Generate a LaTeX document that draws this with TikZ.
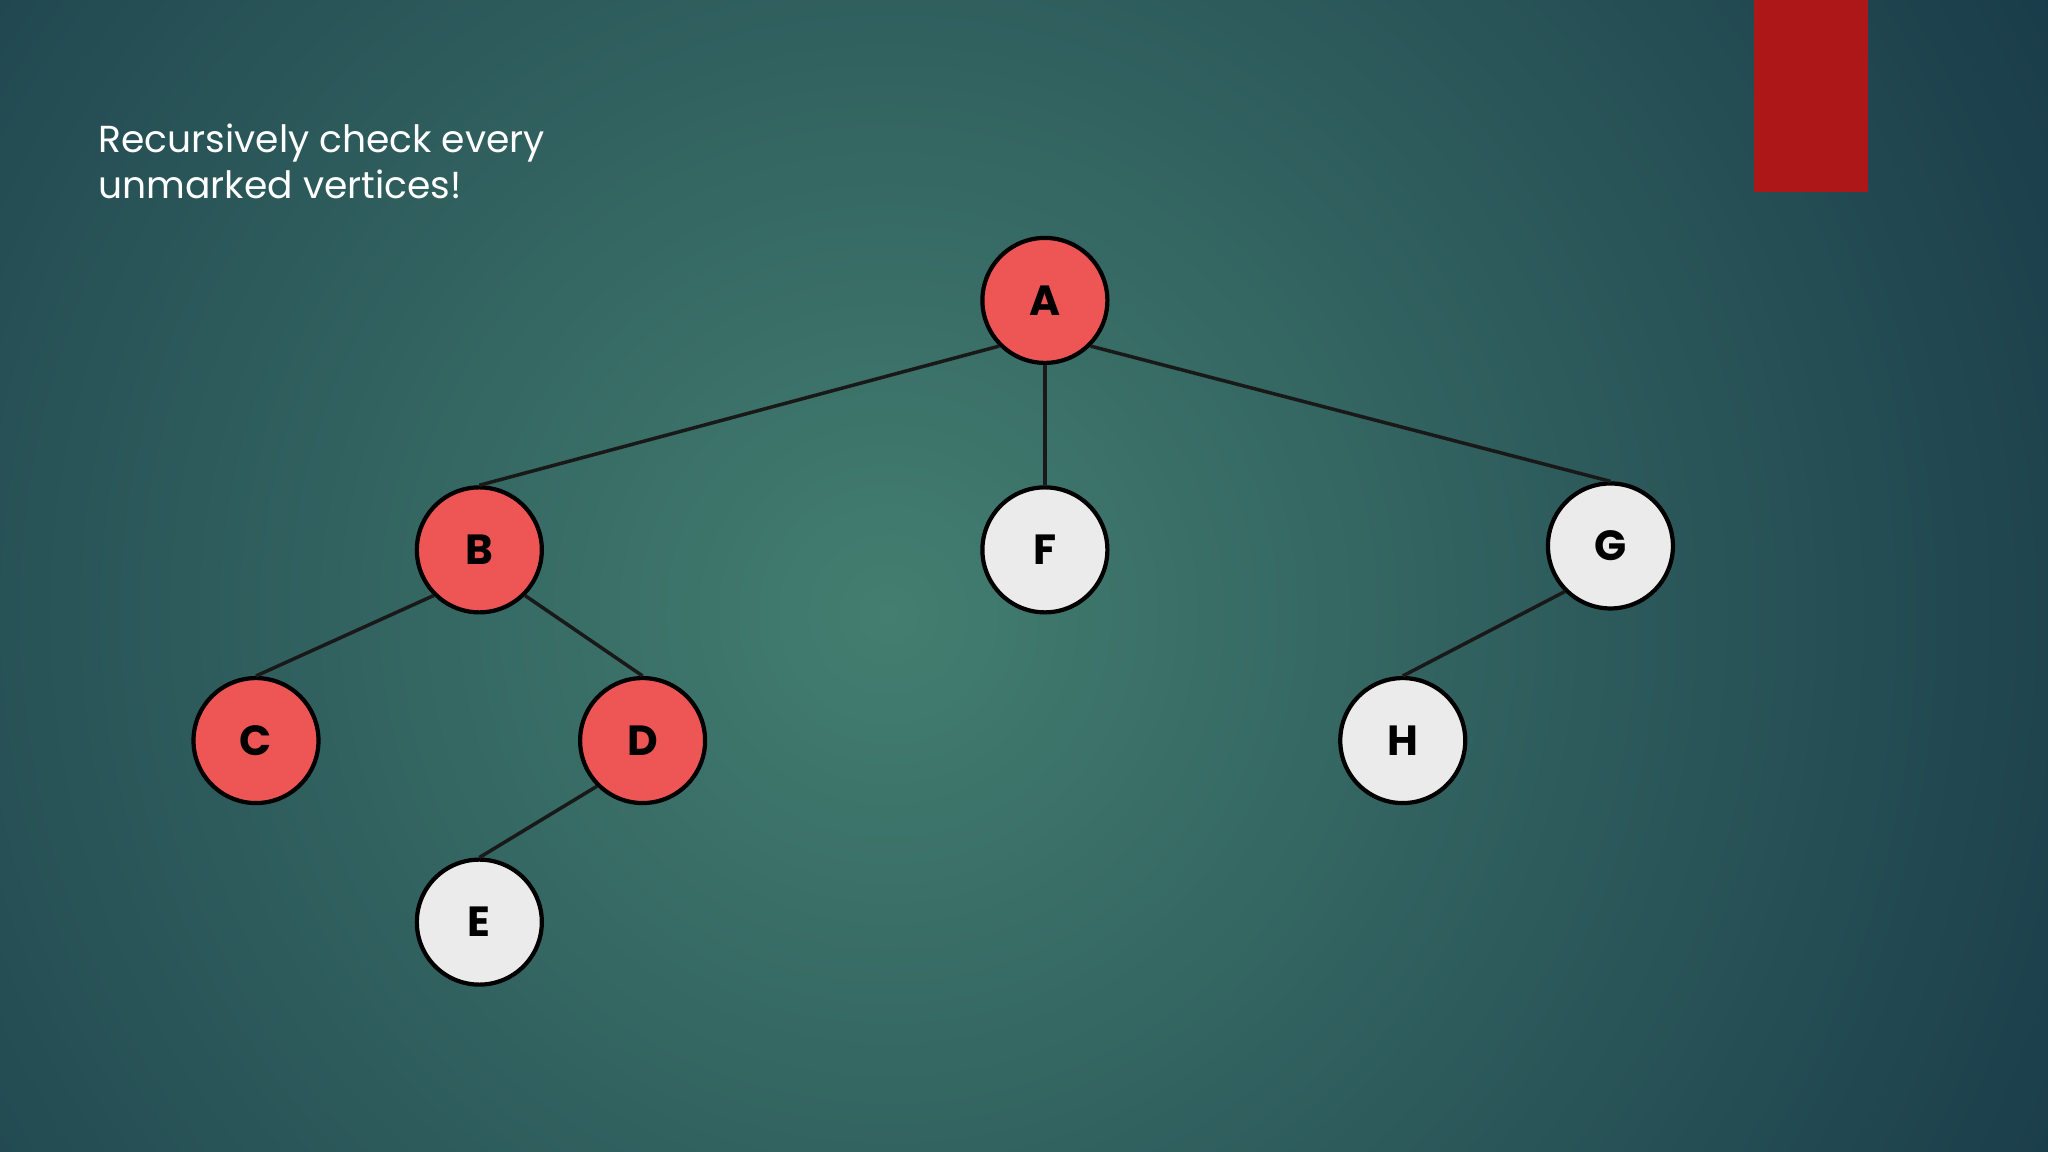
\documentclass[tikz,border=0pt]{standalone}
\usepackage{fontspec}
\setmainfont{Poppins}
\definecolor{bgin}{HTML}{437E70}
\definecolor{bgout}{HTML}{163646}
\definecolor{vred}{HTML}{EE5656}
\definecolor{vgray}{HTML}{EBEBEB}
\definecolor{barred}{HTML}{AE1717}
\tikzset{
  vtx/.style={circle,draw=black,line width=1.2pt,minimum size=1.25cm,inner sep=0pt,font=\fontsize{12}{12}\selectfont\bfseries},
  visited/.style={vtx,fill=vred},
  fresh/.style={vtx,fill=vgray},
  edge/.style={draw=black!90,line width=1pt}
}
\begin{document}
\begin{tikzpicture}[x=0.013061cm,y=-0.013061cm]
\useasboundingbox (0,0) rectangle (1568,882);
\fill[bgout] (0,0) rectangle (1568,882);
\begin{scope}
\clip (0,0) rectangle (1568,882);
\shade[inner color=bgin,outer color=bgout] (680,470) circle (1100);
\end{scope}
\fill[barred] (1343,0) rectangle (1430,147);
\node[anchor=north west,align=left,text=white,font=\fontsize{10.7}{13.2}\selectfont,inner sep=0pt] (txt) at (75,94) {Recursively check every\\unmarked vertices!};
\node[visited] (A) at (800,230) {A};
\node[visited] (B) at (367,421) {B};
\node[fresh] (F) at (800,421) {F};
\node[fresh] (G) at (1233,418) {G};
\node[visited] (C) at (196,567) {C};
\node[visited] (D) at (492,567) {D};
\node[fresh] (E) at (367,706) {E};
\node[fresh] (H) at (1074,567) {H};
\draw[edge] (A.south west) -- (B.north);
\draw[edge] (A) -- (F);
\draw[edge] (A.south east) -- (G.north);
\draw[edge] (B.south west) -- (C.north);
\draw[edge] (B.south east) -- (D.north);
\draw[edge] (D.south west) -- (E.north);
\draw[edge] (G.south west) -- (H.north);
\end{tikzpicture}
\end{document}
